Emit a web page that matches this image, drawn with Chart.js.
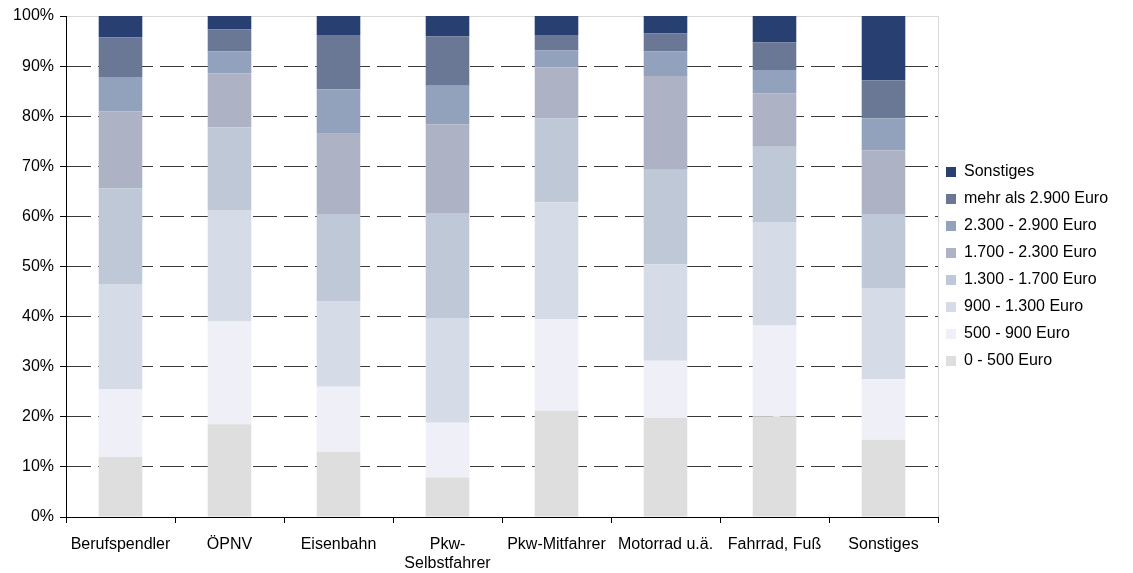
<!DOCTYPE html>
<html>
<head>
<meta charset="utf-8">
<script src="https://cdn.jsdelivr.net/npm/chart.js@4.4.1/dist/chart.umd.min.js"></script>
<style>
  html, body { margin: 0; padding: 0; background: #fff; }
  #wrap { width: 1133px; height: 573px; position: relative; }
</style>
</head>
<body>
<div id="wrap"><canvas id="chart"></canvas></div>
<script>
// Categories (Verkehrsmittel)
const categories = ['Berufspendler', 'ÖPNV', 'Eisenbahn', ['Pkw-', 'Selbstfahrer'],
    'Pkw-Mitfahrer', 'Motorrad u.ä.', 'Fahrrad, Fuß', 'Sonstiges'];

// Shares in percent, one array per income group (bottom to top)
const eur0to500     = [12.0, 18.5, 13.0,  7.9, 21.2, 19.8, 20.1, 15.4];
const eur500to900   = [13.5, 20.5, 13.0, 10.9, 18.3, 11.4, 18.1, 12.1];
const eur900to1300  = [21.0, 22.3, 17.1, 20.9, 23.3, 19.2, 20.7, 18.2];
const eur1300to1700 = [19.1, 16.5, 17.4, 21.0, 16.8, 18.9, 15.0, 14.8];
const eur1700to2300 = [15.4, 10.7, 16.0, 17.7, 10.1, 18.7, 10.7, 12.7];
const eur2300to2900 = [ 6.8,  4.4,  8.9,  7.7,  3.4,  4.9,  4.6,  6.4];
const eurOver2900   = [ 7.9,  4.4, 10.8,  9.8,  3.1,  3.6,  5.5,  7.6];
const other         = [ 4.3,  2.7,  3.8,  4.1,  3.8,  3.5,  5.3, 12.8];

const seriesLabels = ['0 - 500 Euro', '500 - 900 Euro', '900 - 1.300 Euro', '1.300 - 1.700 Euro',
    '1.700 - 2.300 Euro', '2.300 - 2.900 Euro', 'mehr als 2.900 Euro', 'Sonstiges'];
const seriesValues = [eur0to500, eur500to900, eur900to1300, eur1300to1700,
    eur1700to2300, eur2300to2900, eurOver2900, other];
const seriesColors = ['#dedede', '#eeeff7', '#d6dce7', '#bfc8d6',
    '#adb2c5', '#93a2bc', '#6a7896', '#283f72'];

const yTicks = [0, 10, 20, 30, 40, 50, 60, 70, 80, 90, 100];

const FONT = "'Liberation Sans', Arial, sans-serif";

// light border on the right side of the plot area
const plotBorder = {
    id: 'plotBorder',
    beforeDatasetsDraw(chart) {
        const { ctx, chartArea } = chart;
        ctx.save();
        ctx.strokeStyle = '#d9d9d9';
        ctx.lineWidth = 1;
        ctx.beginPath();
        ctx.moveTo(chartArea.right + 0.5, chartArea.top);
        ctx.lineTo(chartArea.right + 0.5, chartArea.bottom);
        ctx.stroke();
        ctx.restore();
    }
};

// fixed legend width, and centre the legend on the plot area instead of the canvas
const legendPlace = {
    id: 'legendPlace',
    beforeInit(chart) {
        const origFit = chart.legend.fit;
        chart.legend.fit = function () {
            origFit.call(this);
            this.width = 195;
        };
    },
    afterLayout(chart) {
        const lg = chart.legend;
        lg.top = chart.chartArea.top;
        lg.bottom = chart.chartArea.bottom;
        lg.height = lg.bottom - lg.top;
        lg.left = chart.chartArea.right - 3;
        lg.right = lg.left + lg.width;
    }
};

const datasets = seriesLabels.map((label, i) => ({
    label,
    data: seriesValues[i],
    backgroundColor: seriesColors[i],
    borderWidth: 0,
    barPercentage: 0.4,
    categoryPercentage: 1.0
}));

new Chart(document.getElementById('chart'), {
    type: 'bar',
    data: { labels: categories, datasets },
    plugins: [plotBorder, legendPlace],
    options: {
        responsive: true,
        maintainAspectRatio: false,
        animation: false,
        layout: { padding: { top: 16, right: 0, bottom: 0, left: 0 } },
        plugins: {
            tooltip: { enabled: false },
            legend: {
                position: 'right',
                reverse: true,
                labels: {
                    color: '#000',
                    font: { family: FONT, size: 16 },
                    boxWidth: 10,
                    boxHeight: 10,
                    padding: 11
                }
            }
        },
        scales: {
            x: {
                stacked: true,
                afterFit(scale) { scale.height = 56; },
                grid: {
                    offset: true,
                    drawOnChartArea: false,
                    drawTicks: true,
                    tickLength: 6,
                    tickColor: '#000'
                },
                border: { color: '#000', width: 1 },
                ticks: {
                    color: '#000',
                    font: { family: FONT, size: 16 },
                    padding: 12,
                    maxRotation: 0,
                    autoSkip: false
                }
            },
            y: {
                stacked: true,
                min: 0,
                max: 100,
                afterFit(scale) { scale.width = 66; },
                afterBuildTicks(scale) { scale.ticks = yTicks.map(v => ({ value: v })); },
                grid: {
                    color: ctx => (ctx.tick && ctx.tick.value === 100) ? '#d9d9d9' : '#3a3a3a',
                    lineWidth: 1,
                    tickLength: 6,
                    tickColor: '#000'
                },
                border: {
                    color: '#000',
                    width: 1,
                    dash: ctx => (ctx.tick && ctx.tick.value === 100) ? [] : [24, 7]
                },
                ticks: {
                    color: '#000',
                    font: { family: FONT, size: 16 },
                    padding: 6,
                    callback: v => v + '%'
                }
            }
        }
    }
});
</script>
</body>
</html>
